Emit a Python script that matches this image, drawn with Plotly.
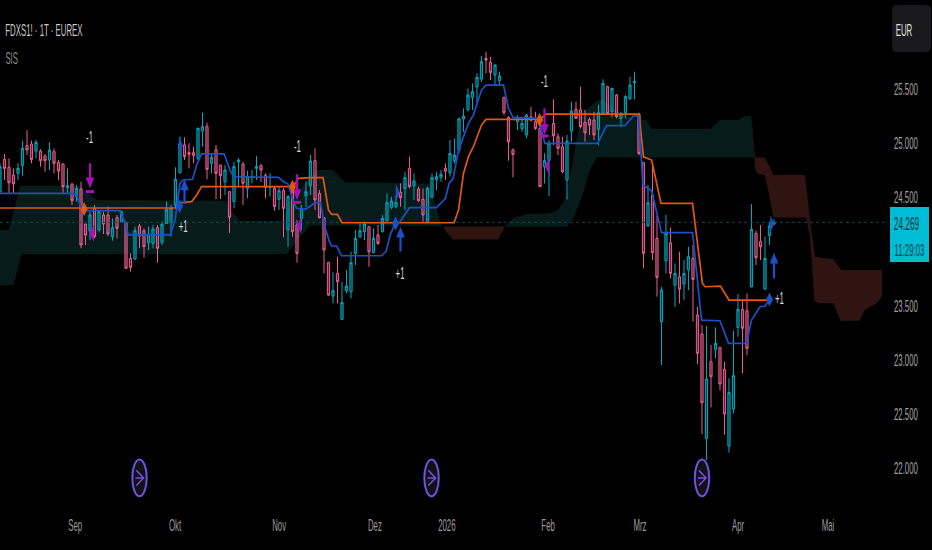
import plotly.graph_objects as go

# daily bars (prices in EUR index points)
opens = [24552, 24850, 24777, 24706, 24721, 24795, 24977, 24992, 24927, 24927, 24881, 24844, 24921, 24823, 24807, 24592, 24623, 24506, 24577, 24253,
         24192, 24398, 24198, 24336, 24336, 24136, 24312, 24275, 24266, 23936, 23930, 24235, 24192, 24084, 24075, 24219, 24084, 24259, 24266, 24429,
         24727, 24983, 24912, 24912, 24860, 25112, 25152, 24814, 24937, 24798, 24644, 24552, 24460, 24826, 24807, 24583, 24681, 24767, 24792, 24700,
         24592, 24583, 24481, 24561, 24198, 24567, 24244, 24306, 24512, 24607, 24838, 24536, 24311, 23896, 23588, 23797, 23373, 23637, 23628, 23982,
         24136, 24182, 24228, 23991, 24151, 24182, 24284, 24407, 24413, 24545, 24582, 24767, 24607, 24576, 24481, 24274, 24505, 24665, 24684, 24767,
         24727, 24838, 24936, 25223, 25312, 25423, 25521, 25592, 25783, 25746, 25629, 25576, 25423, 25238, 24936, 25198, 25136, 25075, 25244, 25198,
         25136, 24782, 24838, 25182, 25059, 24967, 24659, 25112, 25312, 25306, 25192, 25219, 25213, 25127, 25275, 25521, 25290, 25444, 25229, 25281,
         25413, 25558, 25268, 24819, 24234, 24520, 24120, 23351, 23914, 24080, 23689, 23766, 23699, 23828, 23936, 23413, 23237, 22274, 22982, 23096,
         23111, 22911, 22203, 22545, 23299, 23465, 23452, 23674, 24166, 24090, 23652, 24145, 24253]
highs = [24814, 24900, 24860, 24767, 24814, 25023, 25121, 25023, 25029, 24943, 24900, 25007, 24952, 24844, 24814, 24767, 24629, 24613, 24644, 24253,
         24367, 24429, 24383, 24367, 24413, 24306, 24336, 24375, 24275, 23982, 24229, 24253, 24213, 24229, 24244, 24244, 24275, 24459, 24429, 24777,
         25060, 25054, 24998, 24967, 25143, 25281, 25189, 24900, 24983, 24798, 24798, 24552, 24829, 24860, 24829, 24746, 24752, 24881, 24807, 24721,
         24721, 24598, 24598, 24583, 24521, 24629, 24290, 24429, 24644, 24890, 24952, 24567, 24321, 23905, 23807, 23951, 23720, 23828, 23998, 24197,
         24259, 24274, 24234, 24213, 24244, 24336, 24536, 24505, 24521, 24628, 24736, 24875, 24721, 24598, 24582, 24598, 24721, 24736, 24752, 24813,
         25029, 25044, 25238, 25321, 25506, 25552, 25644, 25804, 25844, 25798, 25730, 25660, 25429, 25250, 24952, 25259, 25244, 25269, 25336, 25290,
         25229, 24905, 25029, 25404, 25090, 25059, 25075, 25383, 25383, 25521, 25306, 25238, 25290, 25352, 25589, 25530, 25512, 25453, 25290, 25444,
         25613, 25660, 25281, 24828, 24613, 24782, 24327, 23674, 24336, 24222, 23889, 23997, 23920, 24043, 24059, 23489, 23320, 23311, 23136, 23299,
         23120, 22982, 22828, 23268, 23606, 23551, 23612, 24437, 24191, 24243, 24136, 24274, 24296]
lows = [24536, 24660, 24536, 24536, 24660, 24697, 24890, 24814, 24860, 24783, 24737, 24752, 24721, 24660, 24536, 24536, 24429, 24460, 24029, 24059,
        24106, 24121, 24182, 24161, 24142, 24099, 24121, 24265, 23844, 23813, 23921, 24029, 23942, 24013, 24029, 23896, 24059, 24259, 24136, 24398,
        24721, 24844, 24767, 24814, 24844, 24967, 24666, 24721, 24484, 24484, 24521, 24173, 24398, 24598, 24429, 24490, 24629, 24660, 24644, 24490,
        24506, 24376, 24383, 24130, 24044, 24136, 23896, 24198, 24413, 24521, 24382, 24305, 23797, 23588, 23520, 23520, 23366, 23613, 23567, 23874,
        24121, 24105, 23859, 23982, 24059, 24176, 24275, 24391, 24398, 24413, 24382, 24582, 24475, 24459, 24274, 24265, 24490, 24567, 24644, 24659,
        24690, 24813, 24905, 25105, 25290, 25306, 25367, 25567, 25644, 25583, 25536, 25536, 25259, 24838, 24684, 25121, 25105, 25044, 25198, 25121,
        24598, 24628, 24511, 24982, 24890, 24721, 24481, 25013, 25229, 25136, 25013, 25075, 25029, 24982, 25269, 25259, 25238, 25229, 25146, 25229,
        25398, 25404, 24890, 23843, 24228, 23920, 23582, 22951, 23797, 23751, 23489, 23520, 23551, 23643, 23351, 22960, 22314, 22074, 22560, 23013,
        22720, 22305, 22142, 22505, 23213, 22874, 23043, 23668, 23874, 23920, 23643, 24059, 24243]
closes = [24783, 24767, 24635, 24623, 24767, 24952, 24937, 24850, 25007, 24838, 24838, 24937, 24814, 24743, 24598, 24607, 24469, 24583, 24059, 24152,
          24336, 24136, 24367, 24253, 24161, 24219, 24213, 24367, 23844, 23853, 24192, 24142, 24044, 24152, 24207, 24029, 24250, 24389, 24398, 24666,
          24998, 24875, 24897, 24887, 25137, 25152, 24758, 24869, 24721, 24700, 24752, 24315, 24783, 24844, 24629, 24690, 24690, 24783, 24752, 24592,
          24598, 24413, 24561, 24398, 24506, 24182, 23982, 24398, 24552, 24835, 24475, 24311, 24013, 23597, 23637, 23720, 23527, 23680, 23896, 24121,
          24191, 24253, 23997, 24121, 24074, 24305, 24450, 24465, 24450, 24496, 24681, 24598, 24650, 24468, 24336, 24582, 24681, 24690, 24712, 24742,
          24905, 24890, 25223, 25250, 25444, 25475, 25607, 25752, 25767, 25653, 25721, 25620, 25281, 25013, 24896, 25229, 25182, 25259, 25213, 25136,
          24598, 24838, 24998, 25069, 24952, 24736, 25018, 25296, 25229, 25152, 25096, 25167, 25075, 25281, 25552, 25275, 25506, 25244, 25269, 25429,
          25536, 25567, 24905, 23982, 24450, 23988, 23760, 23643, 24166, 23797, 23797, 23652, 23797, 23951, 23742, 23059, 22603, 22822, 22843, 23151,
          22776, 22499, 22696, 22853, 23465, 23290, 23105, 24203, 23942, 24043, 23936, 24234, 24269]
last_price = 24269

# fast / slow lines (bar position, price)
blue_bars = [0, 16, 17, 18.1, 19.4, 26.7, 27.8, 28.5, 37.8, 38.9, 40, 40.7, 42.8, 43.7, 44.8, 49.8, 51.1, 51.9, 61.9, 63, 64, 65.2, 65.9, 67.8, 69,
             70, 71.2, 72.2, 73.2, 73.7, 74.8, 75.9, 84.8, 85.8, 86.7, 87.8, 88.9, 91, 97, 99, 99.8, 100.7, 101.9, 103, 104.1, 105.2, 107, 108,
             111.9, 113, 114, 119.6, 121.1, 132.8, 134.8, 138.9, 140.7, 141.9, 142.9, 144.8, 147, 153.9, 155.9, 160, 161.9, 165.9, 167, 168.9, 170, 171.1]
blue_vals = [24536, 24536, 24521, 24398, 24376, 24376, 24259, 24152, 24152, 24290, 24629, 24660, 24666, 24798, 24900, 24900, 24752, 24690, 24684, 24644, 24623, 24460, 24398, 24389, 24420,
             24450, 24450, 24228, 24090, 24050, 24050, 23960, 23960, 24000, 24151, 24259, 24274, 24404, 24404, 24490, 24628, 24675, 24936, 25059, 25182, 25259, 25490, 25536,
             25536, 25321, 25238, 25229, 24998, 24998, 25161, 25161, 25250, 25250, 24613, 24560, 24173, 24173, 23366, 23360, 23151, 23151, 23366, 23489, 23495, 23566]
orange_bars = [0, 39.3, 40, 42.6, 43.7, 44.8, 65.2, 66.3, 68.9, 71.8, 73, 73.7, 75, 76, 100.9, 101.9, 103, 104.1, 105.2, 107, 108,
               120, 121.3, 142, 143, 144.8, 146.9, 153.9, 156.1, 156.7, 160.1, 162, 171.1]
orange_vals = [24401, 24401, 24450, 24460, 24521, 24598, 24598, 24675, 24681, 24681, 24382, 24342, 24342, 24265, 24265, 24382, 24721, 24875, 24967, 25167, 25219,
               25219, 25269, 25268, 24874, 24844, 24443, 24443, 23705, 23674, 23680, 23551, 23551]

# cloud, split where the two spans cross
green_a_top_bars = [0, 1.9, 3.3, 4.4, 17.8, 19.6, 21.5, 50.4, 51, 53.3, 62.5, 65, 68, 70.5, 74, 76.7, 95.5, 96.7, 97.8, 98.5]
green_a_top = [24198, 24198, 24413, 24607, 24607, 24536, 24475, 24469, 24398, 24284, 24284, 24500, 24640, 24752, 24752, 24638, 24628, 24444, 24274, 24228]
green_a_bot_bars = [0, 3, 4.8, 63.7, 65.6, 66.7, 68.9, 98.5]
green_a_bot = [23690, 23690, 23973, 23973, 24075, 24133, 24240, 24234]
red_a_top_bars = [98.5, 112.2]
red_a_top = [24230, 24230]
red_a_bot_bars = [98.5, 99, 100.6, 110.7, 112.2]
red_a_bot = [24230, 24190, 24111, 24111, 24230]
green_b_top_bars = [112.2, 114, 117, 122, 124, 125.9, 128.1, 129.6, 131.9, 133, 134, 138, 142, 143.7, 144.8, 157.8, 160, 164, 165.6, 167, 167.6]
green_b_top = [24228, 24305, 24345, 24351, 24382, 24505, 25029, 25290, 25367, 25398, 25398, 25269, 25213, 25213, 25130, 25130, 25213, 25213, 25250, 25250, 24868]
green_b_bot_bars = [112.2, 126, 127.4, 129.6, 131.1, 132.6, 167.6]
green_b_bot = [24228, 24228, 24305, 24536, 24752, 24868, 24868]
red_b_top_bars = [167, 167.8, 170, 171.9, 178.9, 180, 181.1, 185.2, 187, 196]
red_b_top = [25250, 24868, 24868, 24705, 24705, 24290, 23951, 23928, 23828, 23828]
red_b_bot_bars = [167, 167.8, 168.5, 170, 171.9, 179.1, 180, 181, 181.9, 185.2, 186.8, 191, 192.2, 194.8, 196]
red_b_bot = [25250, 24757, 24714, 24705, 24314, 24314, 24136, 23545, 23521, 23521, 23360, 23360, 23459, 23521, 23582]

# signals
buy_bars = [41, 89, 172]
buy_tails = [24438, 24000, 23751]
buy_tips = [24666, 24228, 23988]
sell_bars = [20, 66, 121]
sell_tails = [24814, 24712, 25321]
sell_tips = [24583, 24475, 25075]
sell_bar_marks = [24552, 24453, 25066]
right_tri_bars = [40.1, 88.3, 171.5]
right_tri_vals = [24983, 24542, 24253]
left_tri_bars = [20.4, 66.5, 121.6]
left_tri_vals = [24167, 24238, 24788]
orange_dia_bars = [18.7, 65, 119.9]
orange_dia_vals = [24392, 24598, 25213]
blue_dia_bars = [39.9, 87.9, 171]
blue_dia_vals = [24420, 24259, 23557]
label_bars = [19.9, 66.1, 121, 40.7, 88.9, 173.2]
label_vals = [25044, 24958, 25558, 24219, 23788, 23551]
label_texts = ["-1", "-1", "-1", "+1", "+1", "+1"]
event_bars = [31, 95.9, 156]
event_y = 21908

month_bars = [16.7, 38.9, 62, 83.3, 99.3, 121.8, 142.2, 164, 184]
month_labels = ["Sep", "Okt", "Nov", "Dez", "2026", "Feb", "Mrz", "Apr", "Mai"]
price_ticks = [22000, 22500, 23000, 23500, 24500, 25000, 25500]
price_labels = ["22.000", "22.500", "23.000", "23.500", "24.500", "25.000", "25.500"]

FONT = "Liberation Sans, sans-serif"
GREEN_CLOUD = "#061b1a"
RED_CLOUD = "#2f1412"
BLUE = "#1c50c8"
ORANGE = "#e4570f"
PURPLE = "#a80fb8"

# the reference text is squeezed sideways, so squeeze every svg text after drawing
SQUEEZE = """
document.body.style.margin = '0';
document.querySelectorAll('svg text').forEach(function (t) {
    var b = t.getBBox();
    var cx = t.getAttribute('text-anchor') === 'start' ? b.x : b.x + b.width / 2;
    var tr = t.getAttribute('transform') || '';
    t.setAttribute('transform', tr + ' translate(' + cx + ' 0) scale(0.46 1) translate(' + (-cx) + ' 0)');
});
"""


def area_path(top_x, top_y, bot_x, bot_y):
    xs = top_x + bot_x[::-1]
    ys = top_y + bot_y[::-1]
    return "M " + " L ".join(f"{x} {y}" for x, y in zip(xs, ys)) + " Z"


def polygon(fig, xs, ys, color):
    fig.add_trace(go.Scatter(x=xs, y=ys, fill="toself", fillcolor=color, mode="none", hoverinfo="skip"))


def side_text(text, x_px, y_px, size, color):
    # pixel position in the 885x510 plot area, anchors fixed so plotly doesn't pick them
    return dict(text=text, x=x_px / 885, y=1 - y_px / 510, xref="paper", yref="paper", xanchor="center", yanchor="middle",
                showarrow=False, font=dict(family=FONT, size=size, color=color))


fig = go.Figure()

# cloud as shapes below the traces, a filled scatter would hide the candles
shapes = []
for top_x, top_y, bot_x, bot_y, color in [
    (green_a_top_bars, green_a_top, green_a_bot_bars, green_a_bot, GREEN_CLOUD),
    (red_a_top_bars, red_a_top, red_a_bot_bars, red_a_bot, RED_CLOUD),
    (green_b_top_bars, green_b_top, green_b_bot_bars, green_b_bot, GREEN_CLOUD),
    (red_b_top_bars, red_b_top, red_b_bot_bars, red_b_bot, RED_CLOUD),
]:
    shapes.append(dict(type="path", xref="x", yref="y", layer="below", fillcolor=color, line=dict(width=0),
                       path=area_path(top_x, top_y, bot_x, bot_y)))

fig.add_trace(go.Scatter(x=[0, 196.7], y=[last_price, last_price], mode="lines",
                         line=dict(color="#0c4a4f", width=1, dash="dot"), hoverinfo="skip"))

fig.add_trace(go.Candlestick(
    x=list(range(len(opens))), open=opens, high=highs, low=lows, close=closes,
    increasing=dict(line=dict(color="#00acc1", width=1), fillcolor="rgba(0,172,193,0.38)"),
    decreasing=dict(line=dict(color="#ec5f90", width=1), fillcolor="rgba(236,95,144,0.38)"),
    whiskerwidth=0,
))

fig.add_trace(go.Scatter(x=orange_bars, y=orange_vals, mode="lines", line=dict(color=ORANGE, width=1.7)))
fig.add_trace(go.Scatter(x=blue_bars, y=blue_vals, mode="lines", line=dict(color=BLUE, width=1.7)))

# arrows: stem plus a head, sell arrows also get a small bar underneath
for b, tail, tip in zip(buy_bars, buy_tails, buy_tips):
    fig.add_trace(go.Scatter(x=[b, b], y=[tail, tip - 70], mode="lines", line=dict(color=BLUE, width=2.2)))
    polygon(fig, [b - 0.95, b, b + 0.95], [tip - 100, tip, tip - 100], BLUE)
for b, tail, tip, mark in zip(sell_bars, sell_tails, sell_tips, sell_bar_marks):
    fig.add_trace(go.Scatter(x=[b, b], y=[tail, tip + 70], mode="lines", line=dict(color=PURPLE, width=2.2)))
    polygon(fig, [b - 0.95, b, b + 0.95], [tip + 100, tip, tip + 100], PURPLE)
    fig.add_trace(go.Scatter(x=[b - 0.9, b + 0.9], y=[mark, mark], mode="lines", line=dict(color=PURPLE, width=3)))

for b, v in zip(right_tri_bars, right_tri_vals):
    polygon(fig, [b - 0.35, b + 0.55, b - 0.35], [v + 80, v, v - 80], BLUE)
for b, v in zip(left_tri_bars, left_tri_vals):
    polygon(fig, [b + 0.45, b - 0.55, b + 0.45], [v + 80, v, v - 80], PURPLE)

fig.add_trace(go.Scatter(x=orange_dia_bars, y=orange_dia_vals, mode="markers",
                         marker=dict(symbol="diamond-tall", size=10, color=ORANGE)))
fig.add_trace(go.Scatter(x=blue_dia_bars, y=blue_dia_vals, mode="markers",
                         marker=dict(symbol="diamond-tall", size=10, color=BLUE)))
fig.add_trace(go.Scatter(x=label_bars, y=label_vals, mode="text", text=label_texts,
                         textfont=dict(family=FONT, size=17, color="#d8d8d8")))

for b in event_bars:
    shapes.append(dict(type="circle", xref="x", yref="y", x0=b - 1.6, x1=b + 1.6, y0=event_y - 170, y1=event_y + 170,
                       line=dict(color="#7350e0", width=2), fillcolor="#111116"))
    shapes.append(dict(type="path", xref="x", yref="y", line=dict(color="#7350e0", width=1.5),
                       path=f"M {b - 0.7} {event_y + 70} L {b + 0.9} {event_y} L {b - 0.7} {event_y - 70} M {b - 0.9} {event_y} L {b + 0.9} {event_y}"))
# EUR button, rounded corners, sits right of the plot
shapes.append(dict(type="path", xref="paper", yref="paper", fillcolor="#1a1a1d", line=dict(width=0),
                   path="M 1.0135 0.99 L 1.046 0.99 Q 1.052 0.99 1.052 0.98 L 1.052 0.908 Q 1.052 0.898 1.046 0.898 "
                        "L 1.0135 0.898 Q 1.008 0.898 1.008 0.908 L 1.008 0.98 Q 1.008 0.99 1.0135 0.99 Z"))
# last price box
shapes.append(dict(type="rect", xref="paper", yref="paper", x0=890 / 885, x1=929 / 885, y0=1 - 262 / 510, y1=1 - 207 / 510,
                   fillcolor="#00bcd4", line=dict(width=0)))

annotations = [
    side_text("FDXS1! · 1T · EUREX", 44, 30, 17, "#c8c8c8"),
    side_text("SIS", 11, 58, 17, "#8a8a8a"),
    side_text("EUR", 904, 30, 17, "#e0e0e0"),
    side_text(f"{last_price:,}".replace(",", "."), 907, 224, 18, "#08363b"),
    side_text("11:29:03", 909, 250, 17, "#08464d"),
]

fig.update_layout(
    width=932, height=550, margin=dict(l=0, r=47, t=0, b=40, autoexpand=False),
    paper_bgcolor="#000000", plot_bgcolor="#000000", showlegend=False,
    shapes=shapes, annotations=annotations,
    font=dict(family=FONT),
    xaxis=dict(range=[0, 196.67], tickvals=month_bars, ticktext=month_labels, ticks="", showgrid=False, zeroline=False,
               rangeslider=dict(visible=False), tickfont=dict(size=17, color="#9a9a9a"), showline=False, ticklabelstandoff=3),
    yaxis=dict(range=[21612, 26322], side="right", tickvals=price_ticks, ticktext=price_labels, ticks="", showgrid=False,
               zeroline=False, tickfont=dict(size=17, color="#a0a0a0"), showline=False, ticklabelstandoff=8, automargin=False),
)

fig.write_html("out.html", config={"displayModeBar": False}, post_script=SQUEEZE)
